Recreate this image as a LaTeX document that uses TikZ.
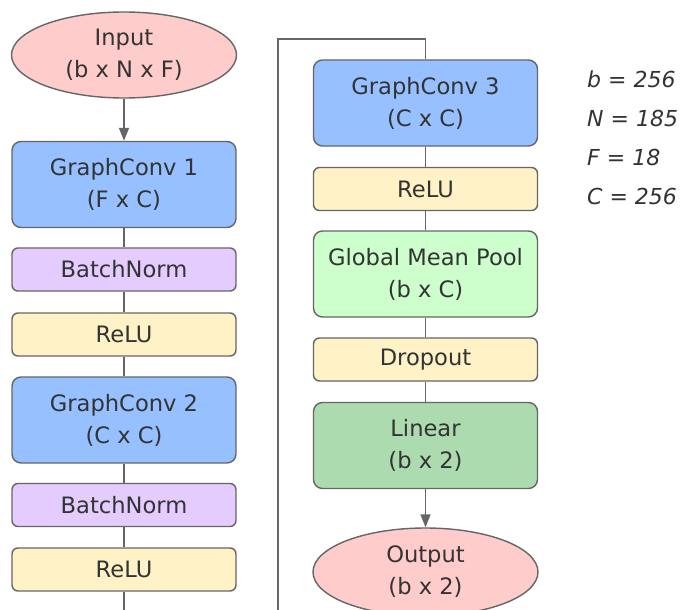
\documentclass[tikz,border=0pt]{standalone}
\usepackage{fontspec}
\setmainfont{DejaVu Sans}
\usetikzlibrary{arrows.meta,shapes.geometric}
\definecolor{pinkf}{HTML}{FFCCCC}
\definecolor{bluef}{HTML}{96C0FF}
\definecolor{purplef}{HTML}{E5CCFF}
\definecolor{yellowf}{HTML}{FFF2C6}
\definecolor{lgreenf}{HTML}{CCFFCC}
\definecolor{dgreenf}{HTML}{ADDBB0}
\definecolor{edge}{HTML}{666666}
\definecolor{txt}{HTML}{333333}
\tikzset{
  base/.style={draw=edge, line width=1.4pt, text=txt, align=center,
    font=\fontsize{22.6}{32}\selectfont, inner sep=0pt},
  boxbig/.style={base, rounded corners=9pt, minimum width=224pt, minimum height=86pt},
  boxsmall/.style={base, rounded corners=6pt, minimum width=224pt, minimum height=43pt},
  oval/.style={base, ellipse, fill=pinkf, minimum width=225pt, minimum height=86pt},
  conn/.style={draw=edge, line width=1.4pt},
  arr/.style={conn, -{Triangle[length=13pt,width=10pt]}},
  varlab/.style={text=txt, font=\itshape\fontsize{22}{26}\selectfont, anchor=west, inner sep=0pt}
}
\begin{document}
\begin{tikzpicture}[x=1pt,y=-1pt]
\useasboundingbox (0,0) rectangle (683,610);
\clip (0,0) rectangle (683,610);
\fill[white] (0,0) rectangle (683,610);
% left column
\node[oval] (in) at (124,55) {Input\\(b x N x F)};
\node[boxbig, fill=bluef] (gc1) at (124,184.5) {GraphConv 1\\(F x C)};
\node[boxsmall, fill=purplef] (bn1) at (124,269.5) {BatchNorm};
\node[boxsmall, fill=yellowf] (r1) at (124,334.5) {ReLU};
\node[boxbig, fill=bluef] (gc2) at (124,420) {GraphConv 2\\(C x C)};
\node[boxsmall, fill=purplef] (bn2) at (124,505) {BatchNorm};
\node[boxsmall, fill=yellowf] (r2) at (124,569.5) {ReLU};
% right column
\node[boxbig, fill=bluef] (gc3) at (425.5,103) {GraphConv 3\\(C x C)};
\node[boxsmall, fill=yellowf] (r3) at (425.5,189) {ReLU};
\node[boxbig, fill=lgreenf] (gmp) at (425.5,274) {Global Mean Pool\\(b x C)};
\node[boxsmall, fill=yellowf] (dp) at (425.5,359.5) {Dropout};
\node[boxbig, fill=dgreenf] (lin) at (425.5,445.5) {Linear\\(b x 2)};
\node[oval, minimum height=88pt] (out) at (425.5,572) {Output\\(b x 2)};
% variables
\node[varlab] (vb) at (587,79) {b = 256};
\node[varlab] (vn) at (587,118) {N = 185};
\node[varlab] (vf) at (587,157) {F = 18};
\node[varlab] (vc) at (587,196) {C = 256};
% connectors
\draw[arr] (in) -- (gc1);
\draw[conn] (gc1) -- (bn1);
\draw[conn] (bn1) -- (r1);
\draw[conn] (r1) -- (gc2);
\draw[conn] (gc2) -- (bn2);
\draw[conn] (bn2) -- (r2);
\coordinate (d1) at (124,640);
\coordinate (d2) at (278,640);
\coordinate (t1) at (278,39);
\coordinate (t2) at (425.5,39);
\draw[conn] (r2.south) -- (d1) -- (d2) -- (t1) -- (t2) -- (gc3.north);
\draw[conn] (gc3) -- (r3);
\draw[conn] (r3) -- (gmp);
\draw[conn] (gmp) -- (dp);
\draw[conn] (dp) -- (lin);
\draw[arr] (lin) -- (out);
\end{tikzpicture}
\end{document}
